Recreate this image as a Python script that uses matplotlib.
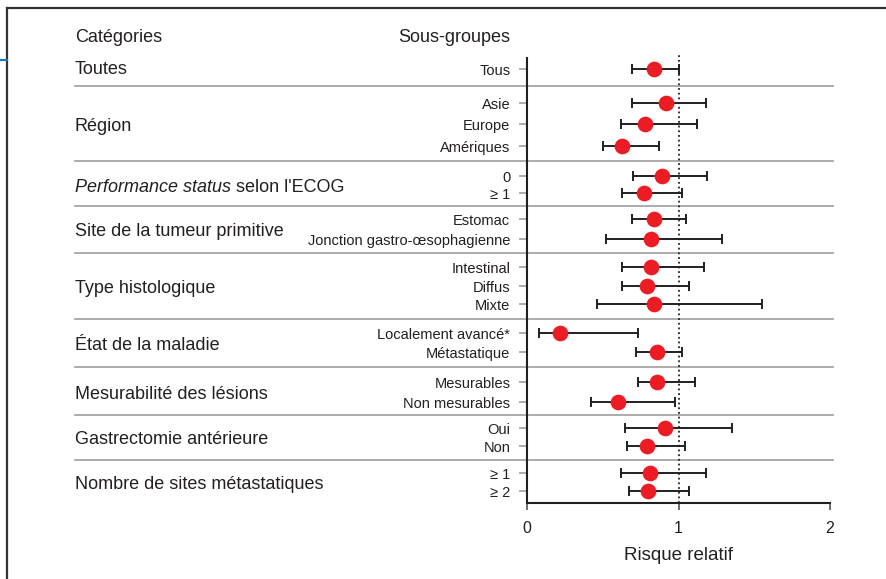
import matplotlib.pyplot as plt

plt.rcParams['font.family'] = ['Liberation Sans', 'DejaVu Sans']

# données (risque relatif et IC 95 %)
categories = [
    "Toutes",
    "Région",
    "Performance status",
    "Site de la tumeur primitive",
    "Type histologique",
    "État de la maladie",
    "Mesurabilité des lésions",
    "Gastrectomie antérieure",
    "Nombre de sites métastatiques",
]
subgroups = [
    ["Tous"],
    ["Asie", "Europe", "Amériques"],
    ["0", "≥ 1"],
    ["Estomac", "Jonction gastro-œsophagienne"],
    ["Intestinal", "Diffus", "Mixte"],
    ["Localement avancé*", "Métastatique"],
    ["Mesurables", "Non mesurables"],
    ["Oui", "Non"],
    ["≥ 1", "≥ 2"],
]
rr = [0.84, 0.92, 0.78, 0.63, 0.89, 0.77, 0.84, 0.82, 0.82, 0.79, 0.84,
      0.22, 0.86, 0.86, 0.60, 0.91, 0.79, 0.81, 0.80]
ci_low = [0.69, 0.69, 0.62, 0.50, 0.70, 0.63, 0.69, 0.52, 0.63, 0.63, 0.46,
          0.08, 0.72, 0.73, 0.42, 0.65, 0.66, 0.62, 0.67]
ci_high = [1.00, 1.18, 1.12, 0.87, 1.19, 1.02, 1.05, 1.29, 1.17, 1.07, 1.55,
           0.73, 1.02, 1.11, 0.98, 1.35, 1.04, 1.18, 1.07]

# mise en page : position verticale de chaque ligne (pixels)
row_y = [69, 103, 124, 146, 176, 193, 219, 239, 267, 286, 304,
         333, 352, 382, 402, 428, 446, 473, 491]

W, H = 887, 579
fig = plt.figure(figsize=(W / 100, H / 100), dpi=100)

bg = fig.add_axes([0, 0, 1, 1])
bg.set_xlim(0, W)
bg.set_ylim(H, 0)
bg.axis('off')

# cadre
bg.plot([7, W], [8, 8], color='#333333', lw=1.6)
bg.plot([7, 7], [8, H], color='#333333', lw=1.6)
bg.plot([0, 7], [60, 60], color='#1a75bc', lw=1.6)

fs_cat = 13
bg.text(75, 37.5, "Catégories", fontsize=fs_cat, va='center', color='#231f20')
bg.text(398, 37.5, "Sous-groupes", fontsize=fs_cat, va='center', color='#231f20')

labels = [s for grp in subgroups for s in grp]
idx = 0
for i, (cat, grp) in enumerate(zip(categories, subgroups)):
    ys = row_y[idx:idx + len(grp)]
    yc = sum(ys) / len(ys) + (2.5 if len(grp) > 1 else 1)
    if cat == "Performance status":
        t = bg.text(75, yc, cat, fontsize=fs_cat, va='center', style='italic',
                    color='#231f20')
        bg.annotate(" selon l'ECOG", xy=(1, 0.5), xycoords=t, va='center',
                    fontsize=fs_cat, color='#231f20')
    else:
        bg.text(75, yc, cat, fontsize=fs_cat, va='center', color='#231f20')
    if i > 0:
        sep = (row_y[idx - 1] + row_y[idx]) / 2
        bg.plot([75, 833], [sep, sep], color='#a6a6a6', lw=1.3, zorder=0)
    idx += len(grp)

# graphique
x0, x1 = 527, 830
y_top, y_bot = 55, 503
ax = fig.add_axes([x0 / W, 1 - y_bot / H, (x1 - x0) / W, (y_bot - y_top) / H])
ax.patch.set_visible(False)
ax.set_xlim(0, 2)
ax.set_ylim(y_bot, y_top)

ax.axvline(1, color='#231f20', lw=1.3, ls=(0, (1, 1.6)), zorder=1)
ax.errorbar(rr, row_y,
            xerr=[[r - l for r, l in zip(rr, ci_low)],
                  [h - r for r, h in zip(rr, ci_high)]],
            fmt='none', ecolor='#231f20', elinewidth=1.4, capsize=3.3,
            capthick=1.4, zorder=2)
ax.plot(rr, row_y, 'o', color='#ec1c24', ms=11.3, mec='none', zorder=3)

for s in ['top', 'right']:
    ax.spines[s].set_visible(False)
for s in ['left', 'bottom']:
    ax.spines[s].set_color('#231f20')
    ax.spines[s].set_linewidth(1.5)
ax.spines['left'].set_bounds(y_bot, 58)

ax.set_xticks([0, 1, 2])
ax.set_xticklabels(["0", "1", "2"])
ax.tick_params(axis='x', direction='out', length=5, width=1.2,
               color='#555555', labelsize=11.5, labelcolor='#231f20', pad=8)
ax.set_yticks(row_y)
ax.set_yticklabels(labels)
ax.tick_params(axis='y', direction='out', length=6, width=1.1,
               color='#999999', labelsize=10.5, labelcolor='#231f20', pad=6)
ax.set_xlabel("Risque relatif", fontsize=13.5, color='#231f20', labelpad=8)

fig.savefig("out.png", dpi=100)
